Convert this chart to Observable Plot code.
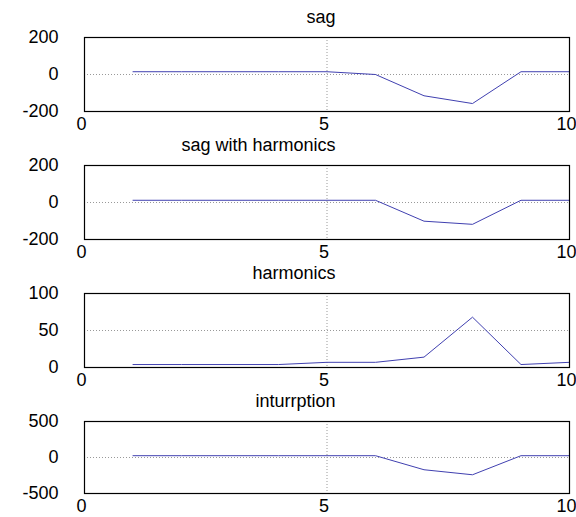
<!DOCTYPE html>
<html>
<head>
<meta charset="utf-8">
<script src="https://cdn.jsdelivr.net/npm/d3@7"></script>
<script src="https://cdn.jsdelivr.net/npm/@observablehq/plot@0.6"></script>
<style>
  html, body { margin: 0; padding: 0; background: white; }
  #chart { position: relative; width: 576px; height: 517px; overflow: hidden; }
  #chart svg { position: absolute; left: 0; }
</style>
</head>
<body>
<div id="chart"></div>
<script>
const xs = [1, 2, 3, 4, 5, 6, 7, 8, 9, 10];
const xTicks = [0, 5, 10];
const titles = ["sag", "sag with harmonics", "harmonics", "inturrption"];
const sag = [15, 15, 15, 15, 15, 0, -115, -157, 15, 15];
const sagHarmonics = [12, 12, 12, 12, 12, 12, -101, -118, 12, 12];
const harmonics = [4, 4, 4, 4, 7, 7, 14, 68, 4, 7];
const interruption = [25, 25, 25, 25, 25, 25, -170, -240, 25, 25];
const yDomains = [[-200, 200], [-200, 200], [0, 100], [-500, 500]];
const yTicks = [[-200, 0, 200], [-200, 0, 200], [0, 50, 100], [-500, 0, 500]];
const series = [sag, sagHarmonics, harmonics, interruption];

const chart = document.getElementById("chart");
const lineColor = "#4040b0";
const fmt = d => String(d);

series.forEach((vals, i) => {
  const data = xs.map((x, j) => ({x, y: vals[j]}));
  const last = i === series.length - 1;
  const p = Plot.plot({
    width: 576,
    height: 133,
    marginLeft: 84,
    marginRight: 7,
    marginTop: 37,
    marginBottom: last ? 24 : 22,
    style: {background: "transparent", overflow: "visible", fontFamily: "'Liberation Sans', Arial, sans-serif", fontSize: "18px"},
    x: {domain: [0, 10], label: null},
    y: {domain: yDomains[i], label: null},
    marks: [
      Plot.gridX(xTicks, {stroke: "#999", strokeOpacity: 1, strokeDasharray: "1,2"}),
      Plot.gridY(yTicks[i], {stroke: "#999", strokeOpacity: 1, strokeDasharray: "1,2"}),
      Plot.line(data, {x: "x", y: "y", stroke: lineColor, strokeWidth: 1}),
      Plot.frame({stroke: "black", strokeWidth: 1.2}),
      Plot.axisX(xTicks, {tickSize: 0, tickPadding: 6, dx: -3, fill: "black", fontSize: 18, label: null, tickFormat: fmt}),
      Plot.axisY(yTicks[i], {tickSize: 0, tickPadding: 26, fill: "black", fontSize: 18, label: null, tickFormat: fmt}),
      Plot.text([titles[i]], {frameAnchor: "top-right", textAnchor: "end", lineAnchor: "bottom", dx: -234, dy: -15, fill: "black", fontSize: 18})
    ]
  });
  p.style.top = (i * 128) + "px";
  chart.appendChild(p);
});
</script>
</body>
</html>
